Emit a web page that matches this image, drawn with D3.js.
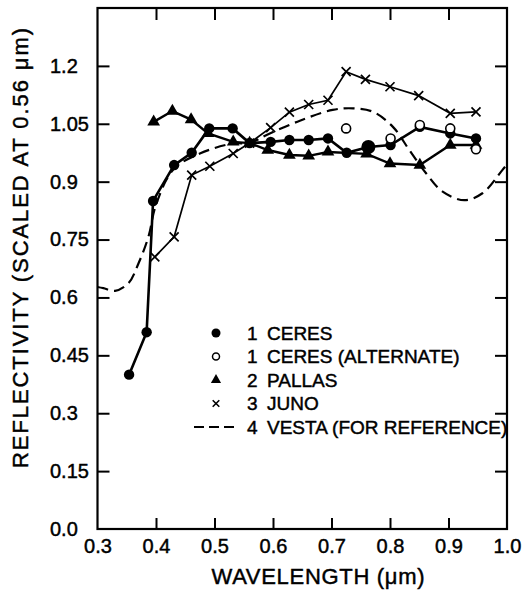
<!DOCTYPE html>
<html>
<head>
<meta charset="utf-8">
<script src="https://cdn.jsdelivr.net/npm/d3@7"></script>
<style>
  body { margin: 0; background: #fff; }
  svg text { font-family: "Liberation Sans", Arial, sans-serif; fill: #000; stroke: #000; stroke-width: 0.45px; }
</style>
</head>
<body>
<div id="chart"></div>
<script>
// wavelength (um) / reflectivity scaled at 0.56 um
var ceresWl = [0.354, 0.384, 0.395, 0.431, 0.461, 0.491, 0.531, 0.56, 0.596, 0.628, 0.661, 0.694, 0.726, 0.763, 0.801, 0.851, 0.903, 0.947]
var ceresR  = [0.40, 0.51, 0.85, 0.943, 0.975, 1.038, 1.038, 1.0, 1.003, 1.008, 1.008, 1.012, 0.975, 0.99, 0.995, 1.042, 1.025, 1.012]

var ceresAltWl = [0.725, 0.801, 0.851, 0.903, 0.947]
var ceresAltR  = [1.038, 1.012, 1.047, 1.038, 0.984]

var pallasWl = [0.396, 0.428, 0.460, 0.489, 0.532, 0.56, 0.591, 0.628, 0.661, 0.694, 0.76, 0.80, 0.851, 0.903, 0.947]
var pallasR  = [1.055, 1.083, 1.061, 1.025, 1.003, 1.0, 0.982, 0.969, 0.967, 0.977, 0.972, 0.947, 0.943, 0.995, 0.995]

var junoWl = [0.398, 0.431, 0.461, 0.492, 0.532, 0.56, 0.596, 0.628, 0.661, 0.694, 0.725, 0.758, 0.800, 0.849, 0.903, 0.947]
var junoR  = [0.705, 0.757, 0.917, 0.940, 0.973, 1.0, 1.040, 1.080, 1.100, 1.111, 1.185, 1.165, 1.146, 1.123, 1.077, 1.081]

var vestaWl = [0.30, 0.31, 0.33, 0.353, 0.370, 0.387, 0.40, 0.43, 0.475, 0.532, 0.56, 0.589, 0.646, 0.702, 0.737, 0.771, 0.805, 0.833, 0.862, 0.890, 0.927, 0.958, 0.992, 1.0]
var vestaR  = [0.627, 0.624, 0.617, 0.637, 0.688, 0.757, 0.84, 0.932, 0.973, 0.999, 1.0, 1.021, 1.058, 1.086, 1.090, 1.081, 1.042, 0.982, 0.921, 0.874, 0.852, 0.870, 0.930, 0.945]

var xTicks = [0.3, 0.4, 0.5, 0.6, 0.7, 0.8, 0.9, 1.0]
var xTickLabels = ["0.3", "0.4", "0.5", "0.6", "0.7", "0.8", "0.9", "1.0"]
var yTicks = [0, 0.15, 0.3, 0.45, 0.6, 0.75, 0.9, 1.05, 1.2]
var yTickLabels = ["0.0", "0.15", "0.3", "0.45", "0.6", "0.75", "0.9", "1.05", "1.2"]

var legendNums = ["1", "1", "2", "3", "4"]
var legendNames = ["CERES", "CERES (ALTERNATE)", "PALLAS", "JUNO", "VESTA (FOR REFERENCE)"]
var legendKinds = ["dot", "open", "tri", "x", "dash"]

var width = 523, height = 590
var margin = {top: 8, right: 16, bottom: 61, left: 97.5}
var innerW = width - margin.left - margin.right
var innerH = height - margin.top - margin.bottom

var svg = d3.select("#chart").append("svg")
  .attr("width", width)
  .attr("height", height)

var bounds = svg.append("g")
  .attr("transform", `translate(${margin.left},${margin.top})`)

var xScale = d3.scaleLinear().domain([0.3, 1.0]).range([0, innerW])
var yScale = d3.scaleLinear().domain([0, 1.35]).range([innerH, 0])

var zip = (xs, ys) => xs.map((x, i) => ({x: x, y: ys[i]}))
var ceres = zip(ceresWl, ceresR)
var ceresAlt = zip(ceresAltWl, ceresAltR)
var pallas = zip(pallasWl, pallasR)
var juno = zip(junoWl, junoR)
var vesta = zip(vestaWl, vestaR)

// axes, ticks pointing inward
var inner = xTicks.slice(1, -1)
bounds.append("g")
  .attr("transform", `translate(0,${innerH})`)
  .call(d3.axisBottom(xScale).tickValues(xTicks).tickSize(-11).tickPadding(10)
    .tickFormat((d, i) => xTickLabels[i]))
  .call(g => g.select(".domain").remove())
  .call(g => g.selectAll(".tick line").filter(d => !inner.includes(d)).remove())
  .call(g => g.selectAll(".tick text").attr("font-size", 20))

bounds.append("g")
  .call(d3.axisTop(xScale).tickValues(inner).tickSize(-12).tickFormat(""))
  .call(g => g.select(".domain").remove())

bounds.append("g")
  .call(d3.axisLeft(yScale).tickValues(yTicks).tickSize(-12)
    .tickFormat((d, i) => yTickLabels[i]))
  .call(g => g.select(".domain").remove())
  .call(g => g.selectAll(".tick line").filter(d => d === 0).remove())
  .call(g => g.selectAll(".tick text")
    .attr("text-anchor", "start")
    .attr("x", 50 - margin.left)
    .attr("font-size", 20))

bounds.append("g")
  .attr("transform", `translate(${innerW},0)`)
  .call(d3.axisRight(yScale).tickValues(yTicks.slice(1)).tickSize(-12).tickFormat(""))
  .call(g => g.select(".domain").remove())

bounds.selectAll(".tick line").attr("stroke", "#000").attr("stroke-width", 2)

bounds.append("rect")
  .attr("width", innerW)
  .attr("height", innerH)
  .attr("fill", "none")
  .attr("stroke", "#000")
  .attr("stroke-width", 2.2)

// curves
var line = d3.line().x(d => xScale(d.x)).y(d => yScale(d.y))
var smooth = d3.line().x(d => xScale(d.x)).y(d => yScale(d.y)).curve(d3.curveCatmullRom)

var plot = bounds.append("g")

plot.append("path").datum(vesta)
  .attr("d", smooth)
  .attr("fill", "none").attr("stroke", "#000")
  .attr("stroke-width", 2.2).attr("stroke-dasharray", "11,6")

plot.append("path").datum(juno)
  .attr("d", line)
  .attr("fill", "none").attr("stroke", "#000").attr("stroke-width", 1.7)

plot.append("path").datum(pallas)
  .attr("d", line)
  .attr("fill", "none").attr("stroke", "#000").attr("stroke-width", 2.4)

plot.append("path").datum(ceres)
  .attr("d", line)
  .attr("fill", "none").attr("stroke", "#000").attr("stroke-width", 2.6)

// markers
function drawX(g, cx, cy, s, w) {
  g.append("path")
    .attr("d", `M${cx - s},${cy - s}L${cx + s},${cy + s}M${cx - s},${cy + s}L${cx + s},${cy - s}`)
    .attr("stroke", "#000").attr("stroke-width", w).attr("fill", "none")
}

juno.forEach(d => drawX(plot, xScale(d.x), yScale(d.y), 4.5, 1.7))

plot.selectAll(".tri").data(pallas).enter().append("path")
  .attr("class", "tri")
  .attr("d", d3.symbol(d3.symbolTriangle, 70))
  .attr("transform", d => `translate(${xScale(d.x)},${yScale(d.y)})`)
  .attr("fill", "#000")

plot.selectAll(".dot").data(ceres).enter().append("circle")
  .attr("class", "dot")
  .attr("cx", d => xScale(d.x))
  .attr("cy", d => yScale(d.y))
  .attr("r", (d, i) => i === 13 ? 7 : 5.2)
  .attr("fill", "#000")

plot.selectAll(".open").data(ceresAlt).enter().append("circle")
  .attr("class", "open")
  .attr("cx", d => xScale(d.x))
  .attr("cy", d => yScale(d.y))
  .attr("r", 4.5)
  .attr("fill", "#fff")
  .attr("stroke", "#000")
  .attr("stroke-width", 1.6)

// legend
var legend = svg.append("g")
var rowY = i => 333 + i * 23.5
legendKinds.forEach((k, i) => {
  var y = rowY(i), mx = 216
  if (k === "dot") legend.append("circle").attr("cx", mx).attr("cy", y).attr("r", 4.5).attr("fill", "#000")
  if (k === "open") legend.append("circle").attr("cx", mx).attr("cy", y).attr("r", 3.5)
    .attr("fill", "#fff").attr("stroke", "#000").attr("stroke-width", 1.5)
  if (k === "tri") legend.append("path").attr("d", d3.symbol(d3.symbolTriangle, 45))
    .attr("transform", `translate(${mx},${y})`).attr("fill", "#000")
  if (k === "x") drawX(legend, mx, y, 3.3, 1.6)
  if (k === "dash") legend.append("line").attr("x1", 194).attr("x2", 236).attr("y1", y).attr("y2", y)
    .attr("stroke", "#000").attr("stroke-width", 2.2).attr("stroke-dasharray", "10,5")
  legend.append("text").attr("x", 247).attr("y", y).attr("dy", "0.36em")
    .attr("font-size", 19).text(legendNums[i])
  legend.append("text").attr("x", 267).attr("y", y).attr("dy", "0.36em")
    .attr("font-size", 19).text(legendNames[i])
})

// axis titles
svg.append("text")
  .attr("x", 318).attr("y", 584)
  .attr("text-anchor", "middle")
  .attr("font-size", 22)
  .attr("textLength", 213)
  .text("WAVELENGTH (μm)")

svg.append("text")
  .attr("transform", "translate(28,248) rotate(-90)")
  .attr("text-anchor", "middle")
  .attr("font-size", 22)
  .attr("textLength", 440)
  .text("REFLECTIVITY (SCALED AT 0.56 μm)")
</script>
</body>
</html>
